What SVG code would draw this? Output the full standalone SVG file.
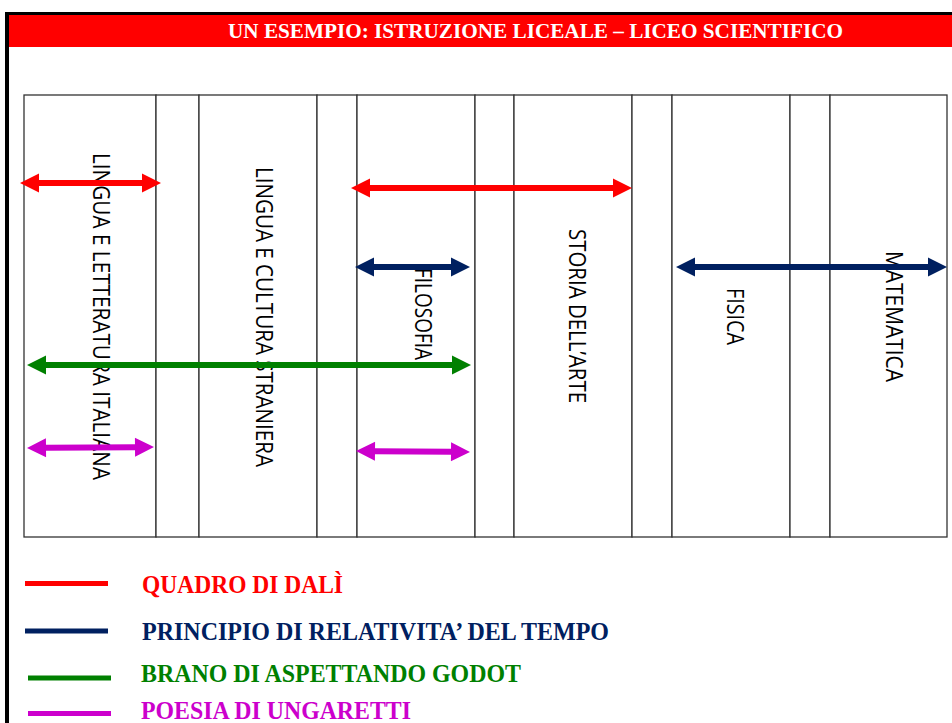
<svg xmlns="http://www.w3.org/2000/svg" width="952" height="723" viewBox="0 0 952 723">
<style>
.cell{fill:#fff;stroke:#333;stroke-width:1.3}
.subj{font-family:"Open Sans","Liberation Sans",sans-serif;font-size:24px;fill:#000}
.leg{font-family:"Liberation Serif","Times New Roman",serif;font-weight:bold;font-size:25px}
.title{font-family:"Liberation Serif","Times New Roman",serif;font-weight:bold;font-size:21px;fill:#fff}
.red{fill:#FF0000}.navy{fill:#002060}.green{fill:#008000}.mag{fill:#CC00CC}
</style>
<rect x="0" y="0" width="952" height="723" fill="#fff"/>
<!-- frame -->
<rect x="5" y="12" width="947" height="3" fill="#000"/>
<rect x="5" y="12" width="4" height="711" fill="#000"/>
<rect x="9" y="15" width="943" height="32" fill="#FF0000"/>
<text class="title" x="228" y="38" textLength="615" lengthAdjust="spacingAndGlyphs">UN ESEMPIO: ISTRUZIONE LICEALE – LICEO SCIENTIFICO</text>

<g id="table">
<rect class="cell" x="24" y="95" width="132" height="442"/>
<rect class="cell" x="156" y="95" width="43" height="442"/>
<rect class="cell" x="199" y="95" width="118" height="442"/>
<rect class="cell" x="317" y="95" width="40" height="442"/>
<rect class="cell" x="357" y="95" width="118" height="442"/>
<rect class="cell" x="475" y="95" width="39" height="442"/>
<rect class="cell" x="514" y="95" width="118" height="442"/>
<rect class="cell" x="632" y="95" width="40" height="442"/>
<rect class="cell" x="672" y="95" width="118" height="442"/>
<rect class="cell" x="790" y="95" width="40" height="442"/>
<rect class="cell" x="830" y="95" width="117" height="442"/>
</g>
<g id="col-italiano"><text class="subj" transform="translate(93,153) rotate(90)" textLength="327" lengthAdjust="spacingAndGlyphs">LINGUA E LETTERATURA ITALIANA</text></g>
<g id="col-straniera"><text class="subj" transform="translate(256,167) rotate(90)" textLength="300" lengthAdjust="spacingAndGlyphs">LINGUA E CULTURA STRANIERA</text></g>
<g id="col-filosofia"><text class="subj" transform="translate(415,268) rotate(90)" textLength="92" lengthAdjust="spacingAndGlyphs">FILOSOFIA</text></g>
<g id="col-arte"><text class="subj" transform="translate(569,229) rotate(90)" textLength="174" lengthAdjust="spacingAndGlyphs">STORIA DELL’ARTE</text></g>
<g id="col-fisica"><text class="subj" transform="translate(727,288) rotate(90)" textLength="57" lengthAdjust="spacingAndGlyphs">FISICA</text></g>
<g id="col-matematica"><text class="subj" transform="translate(886,251) rotate(90)" textLength="131" lengthAdjust="spacingAndGlyphs">MATEMATICA</text></g>

<g id="connectors">
<polygon class="red" points="20,183 39,173.5 39,180 142,180 142,173.5 161,183 142,192.5 142,186 39,186 39,192.5"/>
<polygon class="red" points="351,188 370,178.5 370,185 613,185 613,178.5 632,188 613,197.5 613,191 370,191 370,197.5"/>
<polygon class="navy" points="355,267 374,257.5 374,264 451,264 451,257.5 470,267 451,276.5 451,270 374,270 374,276.5"/>
<polygon class="navy" points="676,267 695,257.5 695,264 928,264 928,257.5 947,267 928,276.5 928,270 695,270 695,276.5"/>
<polygon class="green" points="27,365 46,355.5 46,362 452,362 452,355.5 471,365 452,374.5 452,368 46,368 46,374.5"/>
<polygon class="mag" transform="rotate(-0.45 90 447.5)" points="27,447.5 46,438 46,444.5 135,444.5 135,438 154,447.5 135,457 135,450.5 46,450.5 46,457"/>
<polygon class="mag" transform="rotate(0.5 413 451.5)" points="356,451.5 375,442 375,448.5 451,448.5 451,442 470,451.5 451,461 451,454.5 375,454.5 375,461"/>
</g>

<g id="legend">
<rect class="red" x="25" y="581" width="83" height="5"/>
<text class="leg red" x="142" y="593" textLength="201" lengthAdjust="spacingAndGlyphs">QUADRO DI DALÌ</text>
<rect class="navy" x="25" y="628.5" width="83" height="5"/>
<text class="leg navy" x="142" y="640" textLength="467" lengthAdjust="spacingAndGlyphs">PRINCIPIO DI RELATIVITA’ DEL TEMPO</text>
<rect class="green" x="28" y="675.5" width="83" height="5"/>
<text class="leg green" x="141" y="682" textLength="380" lengthAdjust="spacingAndGlyphs">BRANO DI ASPETTANDO GODOT</text>
<rect class="mag" x="28" y="711" width="83" height="5"/>
<text class="leg mag" x="141" y="719" textLength="270" lengthAdjust="spacingAndGlyphs">POESIA DI UNGARETTI</text>
</g>
</svg>
